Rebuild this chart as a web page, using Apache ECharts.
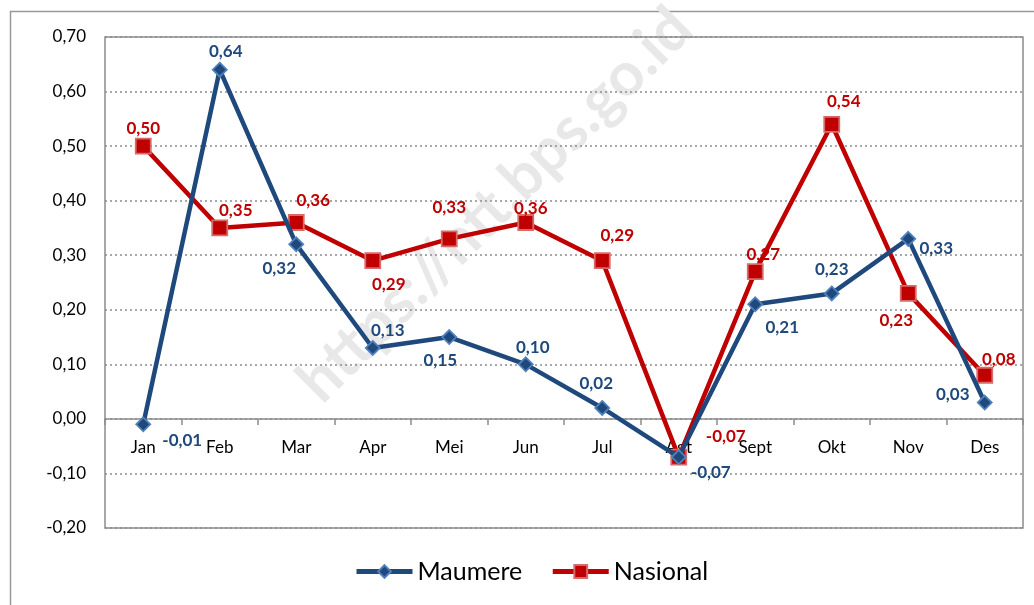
<!DOCTYPE html>
<html>
<head>
<meta charset="utf-8">
<script src="https://cdn.jsdelivr.net/npm/echarts@6/dist/echarts.min.js"></script>
<style>html,body{margin:0;padding:0;background:#fff;}#c{width:1034px;height:605px;}</style>
</head>
<body>
<div id="c"></div>
<script>
const categories = ['Jan','Feb','Mar','Apr','Mei','Jun','Jul','Agt','Sept','Okt','Nov','Des'];
const maumere = [-0.01, 0.64, 0.32, 0.13, 0.15, 0.10, 0.02, -0.07, 0.21, 0.23, 0.33, 0.03];
const nasional = [0.50, 0.35, 0.36, 0.29, 0.33, 0.36, 0.29, -0.07, 0.27, 0.54, 0.23, 0.08];
const seriesNames = ['Maumere', 'Nasional'];
const yMin = -0.2, yMax = 0.7, yStep = 0.1;

// label offsets (styling, kept separate from data)
const mOff = [[39,16],[6,-18],[-17,24],[15,-17],[-9,23],[7,-17],[-6,-24],[32,15],[27,23],[0,-24],[28,10],[-32,-8]];
const nOff = [[0,-18],[16,-17],[17,-22],[16,24],[0,-31],[5,-14],[15,-25],[47,-21],[8,-17],[12,-23],[-12,27],[14,-16]];

const fmt = v => v.toFixed(2).replace('.', ',');
const FONT = 'Lato, "Open Sans", sans-serif';

const GRID = {left: 105, right: 11, top: 37, bottom: 77};
const plotH = 605 - GRID.top - GRID.bottom;
const zeroOffset = -plotH * (0 - yMin) / (yMax - yMin);

function build(vals, offs) {
  return vals.map((v, i) => ({ value: v, label: { offset: offs[i] } }));
}

const chart = echarts.init(document.getElementById('c'), null, {renderer: 'canvas'});
chart.setOption({
  animation: false,
  backgroundColor: '#fff',
  graphic: [
    {
      type: 'rect', z: -10, silent: true,
      shape: {x: 10.5, y: 11.5, width: 1040, height: 600},
      style: {fill: 'none', stroke: '#999', lineWidth: 1.5}
    },
    {
      type: 'text', z: -5, silent: true,
      x: 495, y: 205, rotation: Math.PI / 4,
      style: {
        text: 'https://ntt.bps.go.id',
        font: 'bold 61px ' + FONT,
        fill: '#e8e8e8',
        align: 'center', verticalAlign: 'middle'
      }
    }
  ],
  grid: Object.assign({
    show: true, borderColor: '#8c8c8c', borderWidth: 1.5, backgroundColor: 'transparent'
  }, GRID),
  legend: {
    bottom: 16, left: 349,
    itemWidth: 56, itemHeight: 16, itemGap: 28,
    textStyle: {fontFamily: FONT, fontSize: 25, color: '#000'},
    data: [
      {name: seriesNames[0], lineStyle: {width: 5}},
      {name: seriesNames[1], lineStyle: {width: 5}}
    ]
  },
  xAxis: {
    type: 'category',
    data: categories,
    boundaryGap: true,
    offset: zeroOffset,
    axisLine: {onZero: false, lineStyle: {color: '#8c8c8c', width: 1.5}},
    axisTick: {show: true, inside: false, length: 6, lineStyle: {color: '#8c8c8c', width: 1.5}},
    axisLabel: {fontFamily: FONT, fontSize: 17, color: '#000', margin: 20},
    splitLine: {show: false}
  },
  yAxis: {
    type: 'value',
    min: yMin, max: yMax, interval: yStep,
    axisLine: {show: false},
    axisTick: {show: false},
    axisLabel: {fontFamily: FONT, fontSize: 17, color: '#000', margin: 19, formatter: v => fmt(v)},
    splitLine: {show: true, lineStyle: {type: [2, 3], color: '#8c8c8c', width: 1.5}}
  },
  series: [
    {
      name: seriesNames[0], type: 'line', z: 3,
      data: build(maumere, mOff),
      symbol: 'diamond', symbolSize: 14,
      lineStyle: {color: '#1F497D', width: 4.5},
      itemStyle: {color: '#1F497D', borderColor: '#4F81BD', borderWidth: 1.8},
      label: {show: true, position: 'inside', fontFamily: FONT, fontWeight: 'bold', fontSize: 17,
              color: '#1F497D', formatter: p => fmt(p.value)}
    },
    {
      name: seriesNames[1], type: 'line', z: 2,
      data: build(nasional, nOff),
      symbol: 'rect', symbolSize: 15,
      lineStyle: {color: '#C00000', width: 4.5},
      itemStyle: {color: '#C00000', borderColor: '#D66B6B', borderWidth: 1.8},
      label: {show: true, position: 'inside', fontFamily: FONT, fontWeight: 'bold', fontSize: 17,
              color: '#C00000', formatter: p => fmt(p.value)}
    }
  ]
});
</script>
</body>
</html>
